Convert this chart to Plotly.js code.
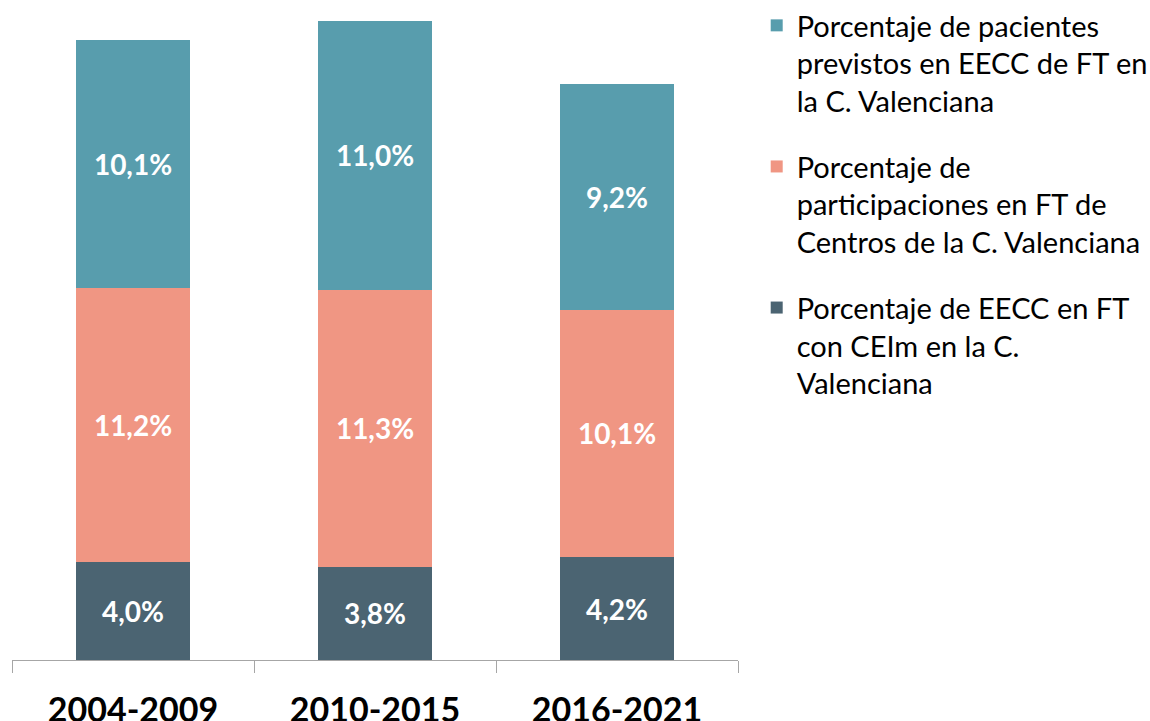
<!DOCTYPE html>
<html>
<head>
<meta charset="utf-8">
<script src="https://cdn.plot.ly/plotly-3.0.1.min.js"></script>
<style>html,body{margin:0;padding:0;background:#fff;} #chart{width:1150px;height:721px;}</style>
</head>
<body>
<div id="chart"></div>
<script>
const categories = ["2004-2009", "2010-2015", "2016-2021"];
const ceimValues = [4.0, 3.8, 4.2];
const participacionesValues = [11.2, 11.3, 10.1];
const pacientesValues = [10.1, 11.0, 9.2];
const seriesNames = [
  "Porcentaje de EECC en FT<br>con CEIm en la C.<br>Valenciana",
  "Porcentaje de<br>participaciones en FT de<br>Centros de la C. Valenciana",
  "Porcentaje de pacientes<br>previstos en EECC de FT en<br>la C. Valenciana"
];
const seriesColors = ["#4B6472", "#F09683", "#589DAD"];

const fmt = v => v.toFixed(1).replace(".", ",") + "%";
const seriesValues = [ceimValues, participacionesValues, pacientesValues];

const traces = seriesValues.map((vals, i) => ({
  type: "bar",
  x: categories,
  y: vals,
  name: seriesNames[i],
  legendgroup: "g" + i,
  legendrank: 3 - i,
  marker: {color: seriesColors[i], line: {width: 0}},
  text: vals.map(fmt),
  textposition: "inside",
  insidetextanchor: "middle",
  textangle: 0,
  constraintext: "none",
  textfont: {family: "Lato", size: 28, color: "#ffffff", weight: "bold"},
  hoverinfo: "skip"
}));

const layout = {
  width: 1150,
  height: 721,
  margin: {l: 12, r: 412, t: 0, b: 61, pad: 0},
  paper_bgcolor: "#ffffff",
  plot_bgcolor: "#ffffff",
  barmode: "stack",
  bargap: 0.53,
  showlegend: true,
  legend: {
    xref: "container", yref: "container",
    x: 0.658, y: 1.0, xanchor: "left", yanchor: "top",
    traceorder: "grouped",
    tracegroupgap: 25,
    itemwidth: 30,
    valign: "top",
    maxheight: 700,
    font: {family: "Lato", size: 29, color: "#000000"},
    bgcolor: "rgba(0,0,0,0)"
  },
  xaxis: {
    type: "category",
    showline: true, linecolor: "#a6a6a6", linewidth: 1,
    ticks: "outside", tickson: "boundaries", ticklen: 12, tickcolor: "#a6a6a6", tickwidth: 1,
    ticklabelstandoff: 20,
    showgrid: false, zeroline: false,
    tickfont: {family: "Lato", size: 34, color: "#000000", weight: "bold"}
  },
  yaxis: {
    visible: false, range: [0, 26.94], showgrid: false, zeroline: false
  }
};

Plotly.newPlot("chart", traces, layout, {displayModeBar: false, staticPlot: true});
</script>
</body>
</html>
